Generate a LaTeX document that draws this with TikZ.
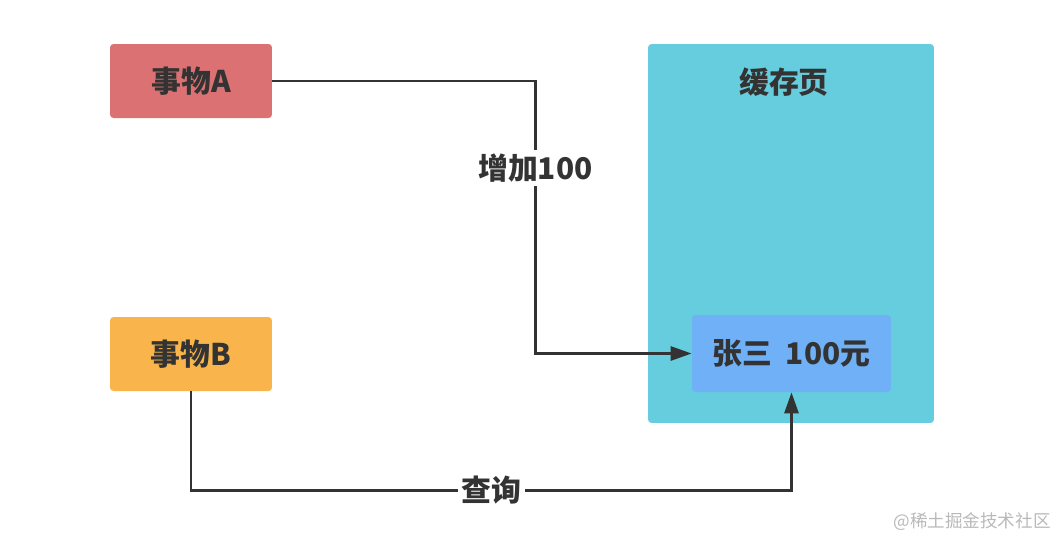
\documentclass[tikz,border=0pt]{standalone}
\usepackage{fontspec}
\setmainfont{Noto Sans CJK SC}
\usepackage{xcolor}
\usetikzlibrary{arrows.meta}

\definecolor{thingA}{HTML}{DB7172}
\definecolor{thingB}{HTML}{F9B54C}
\definecolor{cachepg}{HTML}{66CDDE}
\definecolor{recordbg}{HTML}{6FB0F6}
\definecolor{inkgray}{HTML}{333333}

\begin{document}
\begin{tikzpicture}[x=0.02cm, y=-0.02cm,
    box/.style={rectangle, rounded corners=2pt, inner sep=0pt, text=inkgray, font=\fontsize{17}{20}\selectfont\bfseries},
    flow/.style={draw=inkgray, line width=1.6pt, -{Triangle[length=0.42cm, width=0.28cm]}},
    tag/.style={fill=white, inner sep=2pt, text=inkgray, font=\fontsize{17}{20}\selectfont\bfseries}]
    \useasboundingbox (0,0) rectangle (1059,539);

    \node [box, fill=cachepg, minimum width=5.72cm, minimum height=7.58cm] (cache) at (791,233.5) {};
    \node [box] (cachetitle) at (784,82) {缓存页};
    \node [box, fill=thingA, minimum width=3.24cm, minimum height=1.48cm] (ta) at (191,81) {事物A};
    \node [box, fill=thingB, minimum width=3.24cm, minimum height=1.48cm] (tb) at (191,354) {事物B};
    \node [box, fill=recordbg, minimum width=3.98cm, minimum height=1.54cm] (rec) at (791.5,353.5) {张三\ \ 100元};

    \draw [flow] (ta.east) -- ++(263,0) |- node [tag, pos=0.16] {增加100} (rec.west);
    \draw [flow] (tb.south) -- ++(0,99) -| node [tag, pos=0.25] {查询} (rec.south);

    \node [text=gray!55, font=\fontsize{10}{12}\selectfont] (mark) at (972,522) {@稀土掘金技术社区};
\end{tikzpicture}
\end{document}
